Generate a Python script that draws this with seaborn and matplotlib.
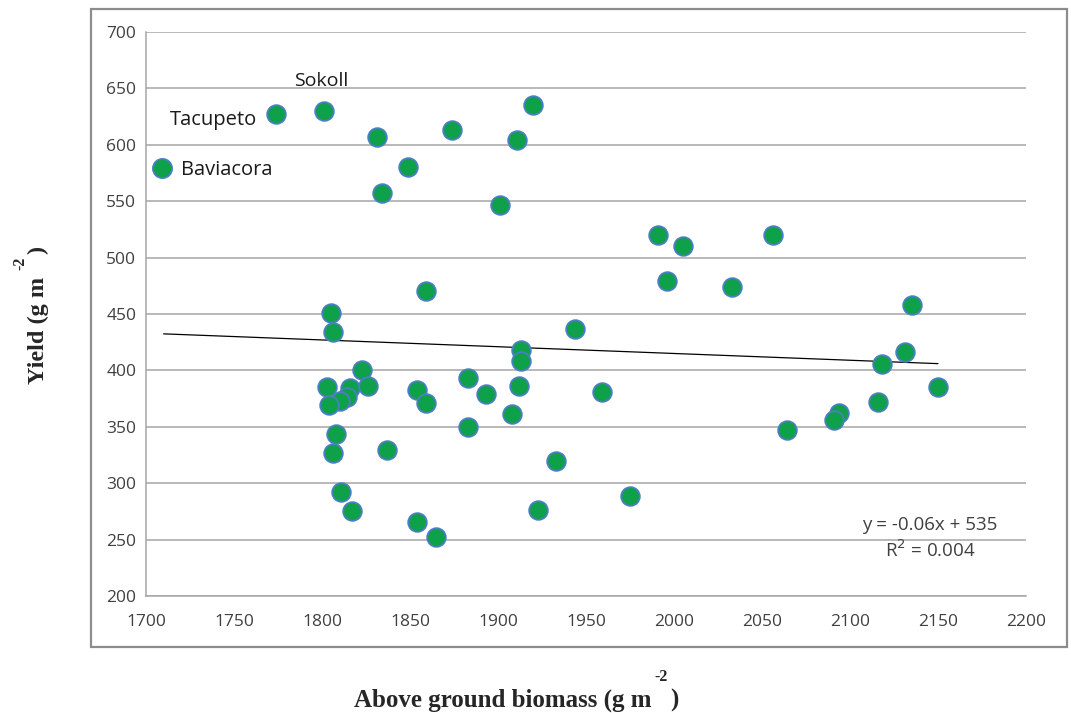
import matplotlib
matplotlib.use("Agg")
import matplotlib.pyplot as plt
import matplotlib.patches as mpatches
from matplotlib.lines import Line2D
import seaborn as sns
import pandas as pd
import numpy as np

# Above ground biomass (g m-2) and grain yield (g m-2) per plot
biomass = [1774, 1801, 1831, 1874, 1849, 1834, 1920, 1911, 1901, 1859,
           1805, 1806, 1944, 1913, 1913, 1823, 1883, 1803, 1816, 1826,
           1854, 1912, 1893, 1814, 1810, 1804, 1859, 1908, 1883, 1808,
           1806, 1837, 1933, 1811, 1817, 1854, 1865, 1923, 1959, 1975,
           1991, 2005, 1996, 2033, 2056, 2064, 2094, 2091, 2116, 2118,
           2131, 2135, 2150]
yield_ = [627, 630, 607, 613, 580, 557, 635, 604, 547, 470,
          451, 434, 437, 418, 408, 400, 393, 385, 384, 386,
          383, 386, 379, 376, 373, 369, 371, 361, 350, 344,
          327, 329, 320, 292, 275, 266, 252, 276, 381, 289,
          520, 510, 479, 474, 520, 347, 362, 356, 372, 406,
          416, 458, 385]

# Linear trend
slope = -0.06
intercept = 535
r_squared = 0.004
trend_x = [1710, 2150]

x_ticks = list(range(1700, 2201, 50))
y_ticks = list(range(200, 701, 50))

df = pd.DataFrame({"biomass": biomass, "yield": yield_})

W, H = 1071, 713
sns.set_style("white")
plt.rcParams["font.family"] = ["Open Sans", "DejaVu Sans"]

fig = plt.figure(figsize=(W / 100, H / 100), dpi=100)
fig.patch.set_facecolor("white")

def fx(px):
    return px / W

def fy(py):
    return 1 - py / H

# outer chart frame
frame = mpatches.Rectangle((fx(91), fy(647)), fx(1067) - fx(91), fy(9) - fy(647),
                           transform=fig.transFigure, fill=False,
                           edgecolor="#8c8c8c", linewidth=1.6, zorder=0)
fig.patches.append(frame)

ax = fig.add_axes([fx(146), fy(596), fx(1026) - fx(146), fy(32) - fy(596)])
ax.set_facecolor("white")

green = "#0fa04a"
edge = "#4a7fc4"

sns.scatterplot(data=df, x="biomass", y="yield", ax=ax, s=180, color=green,
                edgecolor=edge, linewidth=1.3, zorder=3, legend=False)

tx = np.array(trend_x, dtype=float)
ax.plot(tx, slope * tx + intercept, color="black", linewidth=0.9, zorder=2)

ax.set_xlim(1700, 2200)
ax.set_ylim(200, 700)
ax.set_xticks(x_ticks)
ax.set_yticks(y_ticks)
ax.set_xlabel("")
ax.set_ylabel("")
ax.yaxis.grid(True, color="#a6a6a6", linewidth=1.1)
ax.xaxis.grid(False)
for side in ("top", "right"):
    ax.spines[side].set_visible(False)
for side in ("left", "bottom"):
    ax.spines[side].set_color("#a6a6a6")
    ax.spines[side].set_linewidth(1.1)
ax.tick_params(axis="both", direction="out", length=5, width=1, color="#a6a6a6",
               labelsize=12.5, labelcolor="#404040")
ax.tick_params(axis="x", pad=8)
ax.tick_params(axis="y", pad=2)

# series key and point labels
handle = Line2D([], [], marker="o", linestyle="none", markersize=13.8,
                markerfacecolor=green, markeredgecolor=edge, markeredgewidth=1.3)
leg = ax.legend([handle], ["Baviacora"], loc="center left", frameon=False,
                bbox_to_anchor=(fx(140), fy(170)), bbox_transform=fig.transFigure,
                fontsize=14.5, handletextpad=0.35, handlelength=1.2, borderpad=0)
for t in leg.get_texts():
    t.set_color("#1a1a1a")

fig.text(fx(214), fy(120), "Tacupeto", ha="center", va="center", fontsize=14.5, color="#1a1a1a")
fig.text(fx(321), fy(81), "Sokoll", ha="center", va="center", fontsize=14, color="#1a1a1a")

# regression equation
fig.text(fx(930), fy(525), "y = -0.06x + 535", ha="center", va="center",
         fontsize=13.5, color="#404040")
fig.text(fx(930), fy(550), "R$^2$ = 0.004", ha="center", va="center",
         fontsize=13.5, color="#404040")

# axis titles
serif = ["Liberation Serif", "DejaVu Serif"]
fig.text(fx(503), fy(700), "Above ground biomass (g m", ha="center", va="center",
         fontsize=18, fontweight="bold", family=serif)
fig.text(fx(661), fy(677), "-2", ha="center", va="center",
         fontsize=11.5, fontweight="bold", family=serif)
fig.text(fx(674), fy(700), ")", ha="center", va="center",
         fontsize=18, fontweight="bold", family=serif)

fig.text(fx(38), fy(330), "Yield (g m", ha="center", va="center", rotation=90,
         fontsize=17.5, fontweight="bold", family=serif)
fig.text(fx(20), fy(263), "-2", ha="center", va="center", rotation=90,
         fontsize=11.5, fontweight="bold", family=serif)
fig.text(fx(38), fy(250), ")", ha="center", va="center", rotation=90,
         fontsize=17.5, fontweight="bold", family=serif)

fig.savefig("out.png", dpi=100)
